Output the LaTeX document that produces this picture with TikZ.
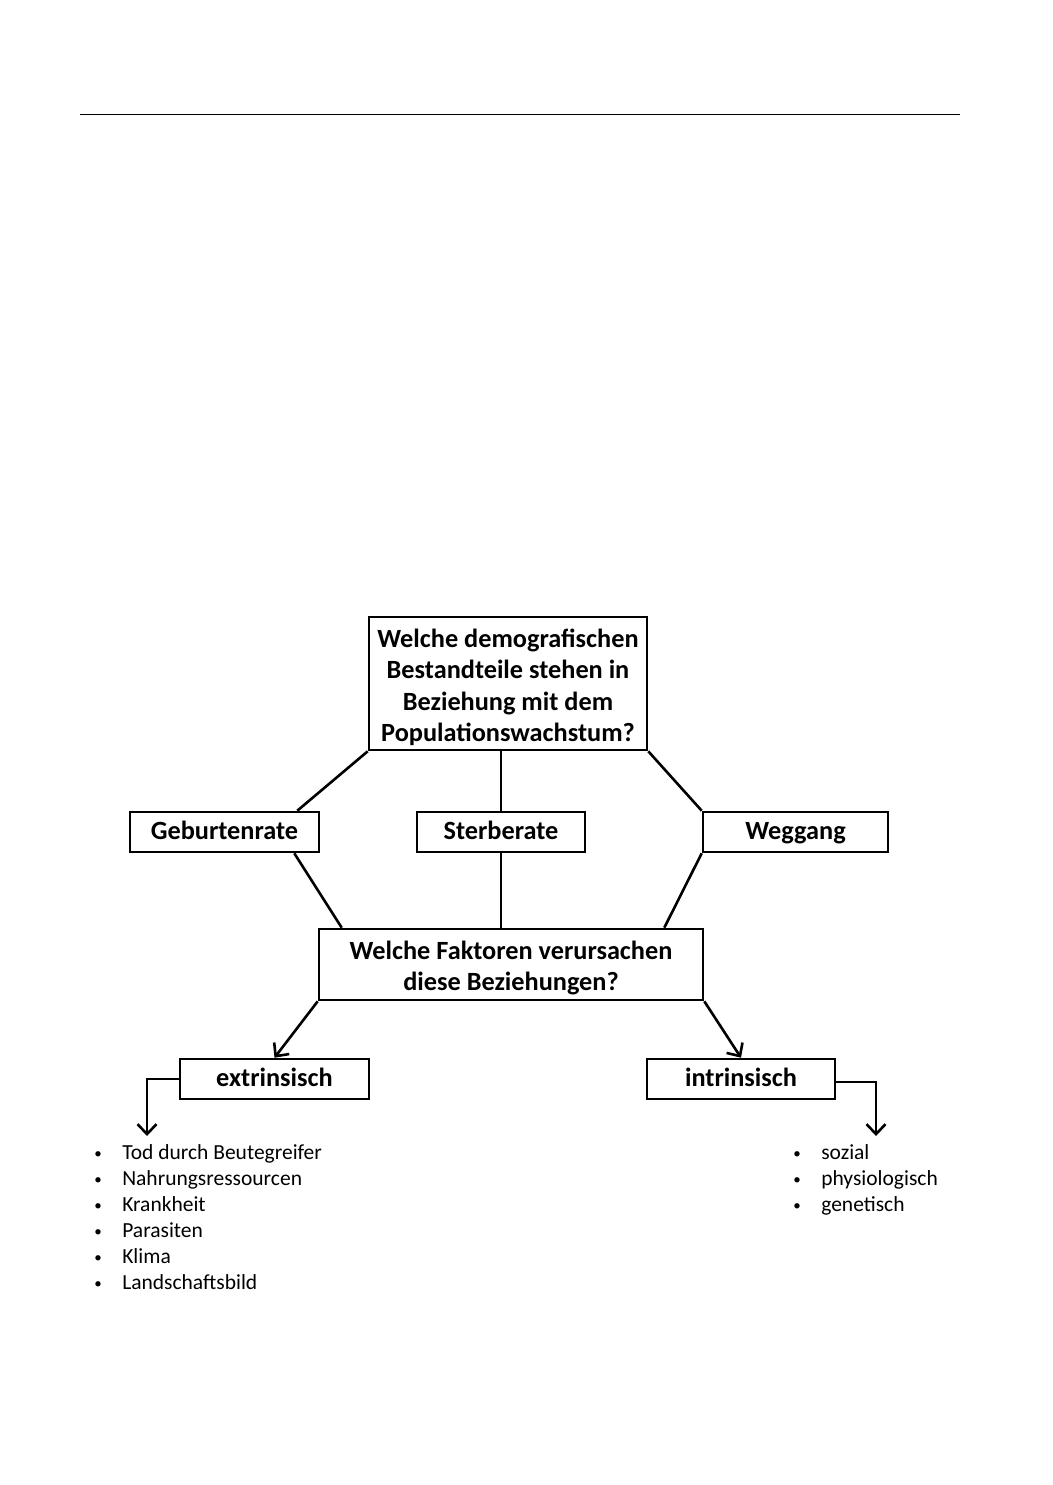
\documentclass[tikz,border=0pt]{standalone}
\usepackage{fontspec}
\setmainfont{Carlito}
\usepackage{tikz}
\usetikzlibrary{arrows.meta}

\newcommand{\punkt}{\makebox[28pt][l]{\raisebox{1pt}{\fontsize{15}{15}\selectfont\textbullet}}}

\begin{document}
\begin{tikzpicture}[x=1pt, y=-1pt, line width=2.6pt,
    frage/.style={draw, fill=white, align=center, inner sep=0pt,
      font=\fontsize{26.3}{31.5}\selectfont\bfseries},
    faktor/.style={frage, minimum height=40pt, text height=18pt, text depth=4pt},
    pfeil/.style={-{Straight Barb[length=10pt, width=19pt, line width=2.6pt]}}]
  \useasboundingbox (0,0) rectangle (1052,1485);
  \draw[line width=1pt] (80,115) -- (960,115);

  % Fragen und Bestandteile
  \node[frage, minimum width=278pt, minimum height=133pt] (demo) at (508,683.5)
    {\rule{0pt}{26pt}Welche demografischen\\Bestandteile stehen in\\Beziehung mit dem\\Populationswachstum?};
  \node[faktor, minimum width=189pt] (geburt) at (224.5,832) {Geburtenrate};
  \node[faktor, minimum width=168pt] (sterbe) at (501,832) {Sterberate};
  \node[faktor, minimum width=185pt] (weggang) at (795.5,832) {Weggang};
  \node[frage, minimum width=384pt, minimum height=71pt] (ursache) at (511,964.5)
    {\rule{0pt}{25pt}Welche Faktoren verursachen\\diese Beziehungen?};
  \node[faktor, minimum width=189pt] (extr) at (274.5,1079) {extrinsisch};
  \node[faktor, minimum width=188pt] (intr) at (741,1079) {intrinsisch};

  \draw (demo.south west) -- ([xshift=-23pt]geburt.north east);
  \draw (sterbe.north |- demo.south) -- (sterbe.north);
  \draw (demo.south east) -- (weggang.north west);
  \draw ([xshift=-26pt]geburt.south east) -- ([xshift=24pt]ursache.north west);
  \draw (sterbe.south) -- (sterbe.south |- ursache.north);
  \draw (weggang.south west) -- ([xshift=-40pt]ursache.north east);
  \draw[pfeil] (ursache.south west) -- (extr.north);
  \draw[pfeil] (ursache.south east) -- (intr.north);

  % Listen
  \coordinate (extrende) at (147,1136);
  \coordinate (intrende) at (876,1136);
  \draw[pfeil] (extr.west) -| (extrende);
  \draw[pfeil] ([yshift=-3pt]intr.east) -| (intrende);

  \node[anchor=north west, inner sep=0pt, align=left,
        font=\fontsize{21.5}{26}\selectfont] (extrliste) at (93,1143) {%
    \punkt Tod durch Beutegreifer\\
    \punkt Nahrungsressourcen\\
    \punkt Krankheit\\
    \punkt Parasiten\\
    \punkt Klima\\
    \punkt Landschaftsbild};
  \node[anchor=north west, inner sep=0pt, align=left,
        font=\fontsize{21.5}{26}\selectfont] (intrliste) at (792,1143) {%
    \punkt sozial\\
    \punkt physiologisch\\
    \punkt genetisch};
\end{tikzpicture}
\end{document}
